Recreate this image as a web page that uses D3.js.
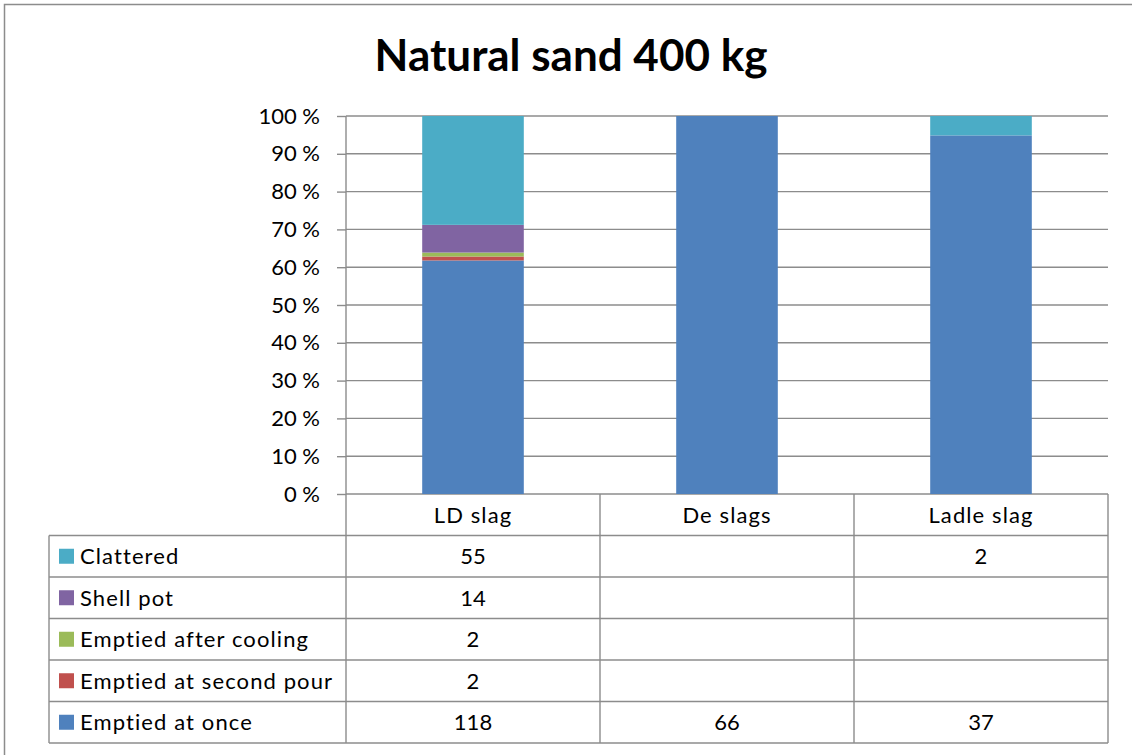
<!DOCTYPE html>
<html>
<head>
<meta charset="utf-8">
<script src="https://cdn.jsdelivr.net/npm/d3@7/dist/d3.min.js"></script>
<style>
  body { margin: 0; background: #fff; overflow: hidden; }
  text { font-family: Lato, "Open Sans", sans-serif; fill: #000; }
</style>
</head>
<body>
<svg id="chart"></svg>
<script>
var width = 1132
var height = 755

// data
var categories = ["LD slag", "De slags", "Ladle slag"]
var seriesNames = ["Emptied at once", "Emptied at second pour", "Emptied after cooling", "Shell pot", "Clattered"]
var seriesColors = ["#4F81BD", "#C0504D", "#9BBB59", "#8064A2", "#4BACC6"]
var emptiedAtOnce = [118, 66, 37]
var emptiedSecondPour = [2, null, null]
var emptiedAfterCooling = [2, null, null]
var shellPot = [14, null, null]
var clattered = [55, null, 2]
var seriesValues = [emptiedAtOnce, emptiedSecondPour, emptiedAfterCooling, shellPot, clattered]
var yTicks = [0, 0.1, 0.2, 0.3, 0.4, 0.5, 0.6, 0.7, 0.8, 0.9, 1]

var plot = {left: 346, right: 1108, top: 116, bottom: 494}
var rowH = 41.5
var tableLeft = 49
var fontSize = 22
var labelSpacing = "1.1px"

var svg = d3.select("#chart")
  .attr("width", width)
  .attr("height", height)

// outer frame (right and bottom edges fall outside the picture)
svg.append("rect")
  .attr("x", 4.5).attr("y", 4.5)
  .attr("width", width + 20).attr("height", height + 20)
  .attr("fill", "#fff")
  .attr("stroke", "#8c8c8c")
  .attr("stroke-width", 1.5)

svg.append("text")
  .attr("x", 571).attr("y", 71)
  .attr("text-anchor", "middle")
  .attr("font-size", 44)
  .attr("font-weight", "bold")
  .text("Natural sand 400 kg")

var xChart = d3.scaleBand()
  .domain(categories)
  .range([plot.left, plot.right])
  .paddingInner(0.6)
  .paddingOuter(0.3)

var xCol = d3.scaleBand()
  .domain(categories)
  .range([plot.left, plot.right])

var yChart = d3.scaleLinear()
  .domain([0, 1])
  .range([plot.bottom, plot.top])

// gridlines
svg.append("g")
  .selectAll("line")
  .data(yTicks)
  .enter()
  .append("line")
  .attr("x1", plot.left).attr("x2", plot.right)
  .attr("y1", function(d){ return yChart(d) })
  .attr("y2", function(d){ return yChart(d) })
  .attr("stroke", "#8c8c8c")
  .attr("stroke-width", 1.4)

// stacked percent bars
var rows = categories.map(function(c, i){
  var r = {name: c}
  seriesNames.forEach(function(s, j){ r[s] = seriesValues[j][i] || 0 })
  return r
})
var stacked = d3.stack().keys(seriesNames).offset(d3.stackOffsetExpand)(rows)

svg.append("g")
  .selectAll("g")
  .data(stacked)
  .enter()
  .append("g")
  .attr("fill", function(d, i){ return seriesColors[i] })
  .selectAll("rect")
  .data(function(d){ return d })
  .enter()
  .append("rect")
  .attr("x", function(d){ return xChart(d.data.name) })
  .attr("width", xChart.bandwidth())
  .attr("y", function(d){ return yChart(d[1]) })
  .attr("height", function(d){ return yChart(d[0]) - yChart(d[1]) })

// y axis
var yAxis = d3.axisLeft(yChart)
  .tickValues(yTicks)
  .tickSize(9)
  .tickPadding(17)
  .tickFormat(function(d){ return Math.round(d * 100) + " %" })

var yG = svg.append("g")
  .attr("transform", "translate(" + plot.left + ",0)")
  .call(yAxis)
yG.select(".domain").remove()
yG.selectAll("line").attr("stroke", "#8c8c8c").attr("stroke-width", 1.4)
yG.selectAll("text")
  .attr("font-size", fontSize)
  .attr("font-family", "Lato, 'Open Sans', sans-serif")
  .attr("fill", "#000")

// data table
var tableTop = plot.bottom
var nRows = seriesNames.length
var tableBottom = tableTop + rowH * (nRows + 1)
var tbl = svg.append("g")
var lineColor = "#8c8c8c"

// vertical lines
var vx = [plot.left].concat(categories.map(function(c){ return xCol(c) + xCol.bandwidth() }))
vx.forEach(function(x){
  tbl.append("line")
    .attr("x1", x).attr("x2", x)
    .attr("y1", x === plot.left ? plot.top : tableTop)
    .attr("y2", tableBottom)
    .attr("stroke", lineColor).attr("stroke-width", 1.4)
})
tbl.append("line")
  .attr("x1", tableLeft).attr("x2", tableLeft)
  .attr("y1", tableTop + rowH).attr("y2", tableBottom)
  .attr("stroke", lineColor).attr("stroke-width", 1.4)

// horizontal lines
for (var r = 1; r <= nRows + 1; r++) {
  tbl.append("line")
    .attr("x1", tableLeft).attr("x2", plot.right)
    .attr("y1", tableTop + r * rowH).attr("y2", tableTop + r * rowH)
    .attr("stroke", lineColor).attr("stroke-width", 1.4)
}

// header
categories.forEach(function(c){
  tbl.append("text")
    .attr("x", xCol(c) + xCol.bandwidth() / 2)
    .attr("y", tableTop + rowH / 2 + 8)
    .attr("text-anchor", "middle")
    .attr("font-size", fontSize)
    .attr("letter-spacing", labelSpacing)
    .text(c)
})

// rows: top row is last series
var order = seriesNames.map(function(s, j){ return j }).reverse()
order.forEach(function(j, r){
  var yMid = tableTop + rowH * (r + 1) + rowH / 2
  tbl.append("rect")
    .attr("x", 59).attr("y", yMid - 7.5)
    .attr("width", 15).attr("height", 15)
    .attr("fill", seriesColors[j])
  tbl.append("text")
    .attr("x", 80).attr("y", yMid + 8)
    .attr("font-size", fontSize)
    .attr("letter-spacing", labelSpacing)
    .text(seriesNames[j])
  categories.forEach(function(c, i){
    var v = seriesValues[j][i]
    if (v == null) return
    tbl.append("text")
      .attr("x", xCol(c) + xCol.bandwidth() / 2)
      .attr("y", yMid + 8)
      .attr("text-anchor", "middle")
      .attr("font-size", fontSize)
      .text(v)
  })
})
</script>
</body>
</html>
